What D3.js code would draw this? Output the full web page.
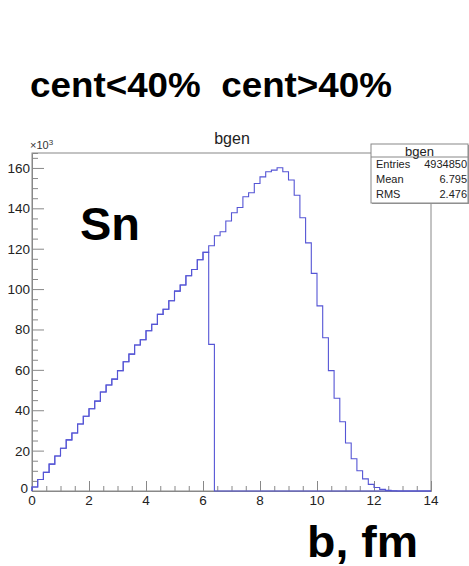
<!DOCTYPE html>
<html>
<head>
<meta charset="utf-8">
<script src="https://cdn.jsdelivr.net/npm/d3@7"></script>
<style>
  body { margin: 0; background: #fff; }
  svg { display: block; }
  text { font-family: "Liberation Sans", Arial, sans-serif; }
</style>
</head>
<body>
<script>
// bgen histogram, 70 bins of 0.2 fm between 0 and 14 (counts in units of 10^3)
var binLow = 0, binHigh = 14, binWidth = 0.2;

var allCounts = [
    2.0, 5.7, 9.2, 13.3, 17.3, 21.2, 25.3, 28.7, 33.2, 37.0,
    40.7, 44.5, 49.0, 52.5, 55.4, 59.6, 64.0, 67.8, 72.3, 74.9,
    79.4, 82.5, 87.5, 90.0, 94.2, 99.0, 102.0, 106.6, 109.7, 114.5,
    118.2, 121.5, 126.4, 128.4, 133.7, 137.8, 140.4, 145.7, 147.7, 152.3,
    155.6, 158.1, 158.9, 160.1, 158.1, 154.0, 146.5, 135.3, 122.9, 107.8,
    91.7, 75.9, 59.6, 45.9, 34.3, 23.8, 16.0, 10.0, 6.0, 3.3,
    1.7, 0.8, 0.3, 0.1, 0, 0, 0, 0, 0, 0
];

// central part (cent<40%): same bins up to b = 6.2, partial last bin, then empty
var centralCounts = [
    2.0, 5.7, 9.2, 13.3, 17.3, 21.2, 25.3, 28.7, 33.2, 37.0,
    40.7, 44.5, 49.0, 52.5, 55.4, 59.6, 64.0, 67.8, 72.3, 74.9,
    79.4, 82.5, 87.5, 90.0, 94.2, 99.0, 102.0, 106.6, 109.7, 114.5,
    118.2, 72.6, 0, 0, 0, 0, 0, 0, 0, 0,
    0, 0, 0, 0, 0, 0, 0, 0, 0, 0,
    0, 0, 0, 0, 0, 0, 0, 0, 0, 0,
    0, 0, 0, 0, 0, 0, 0, 0, 0, 0
];

var xTicks = [0, 2, 4, 6, 8, 10, 12, 14];
var yTicks = [0, 20, 40, 60, 80, 100, 120, 140, 160];

var statsRows = [["Entries", "4934850"], ["Mean", "6.795"], ["RMS", "2.476"]];

var width = 469, height = 566;
var frame = {left: 32, right: 431, top: 153, bottom: 491};
var yMax = 167.4;

var x = d3.scaleLinear().domain([binLow, binHigh]).range([frame.left, frame.right]);
var y = d3.scaleLinear().domain([0, yMax]).range([frame.bottom, frame.top]);

var svg = d3.select("body").append("svg")
    .attr("width", width)
    .attr("height", height);

// frame
svg.append("rect")
    .attr("x", frame.left)
    .attr("y", frame.top)
    .attr("width", frame.right - frame.left)
    .attr("height", frame.bottom - frame.top)
    .attr("fill", "none")
    .attr("stroke", "#888")
    .attr("stroke-width", 1);

// ROOT style ticks (inside the frame)
var xAxis = d3.axisBottom(x)
    .tickValues(d3.range(0, 14.01, 0.5))
    .tickSize(-5)
    .tickFormat("");
svg.append("g")
    .attr("transform", "translate(0," + frame.bottom + ")")
    .call(xAxis)
    .call(function(g) {
        g.select(".domain").attr("stroke", "#888");
        g.selectAll(".tick line").attr("stroke", "#888")
            .attr("y2", function(d) { return d % 2 === 0 ? -10 : -5; });
    });

var yAxis = d3.axisLeft(y)
    .tickValues(d3.range(0, 166, 5))
    .tickSize(-6)
    .tickFormat("");
svg.append("g")
    .attr("transform", "translate(" + frame.left + ",0)")
    .call(yAxis)
    .call(function(g) {
        g.select(".domain").attr("stroke", "#888");
        g.selectAll(".tick line").attr("stroke", "#888")
            .attr("x2", function(d) { return d % 20 === 0 ? 12 : 6; });
    });

// tick labels
svg.append("g").selectAll("text")
    .data(xTicks)
    .enter().append("text")
    .attr("x", function(d) { return x(d); })
    .attr("y", frame.bottom + 14)
    .attr("text-anchor", "middle")
    .attr("font-size", 13.5)
    .attr("fill", "#222")
    .text(function(d) { return d; });

svg.append("g").selectAll("text")
    .data(yTicks)
    .enter().append("text")
    .attr("x", function(d) { return d === 0 ? frame.left - 4 : frame.left - 2; })
    .attr("y", function(d) { return y(d) + (d === 0 ? 2 : 5); })
    .attr("text-anchor", "end")
    .attr("font-size", 13.5)
    .attr("fill", "#222")
    .text(function(d) { return d; });

var expo = svg.append("text")
    .attr("x", frame.left - 2)
    .attr("y", frame.top - 4)
    .attr("font-size", 11)
    .attr("fill", "#333");
expo.append("tspan").text("\u00d710");
expo.append("tspan").attr("dy", -4).attr("font-size", 8).text("3");

// histogram outlines
function stepPath(counts) {
    var pts = [[x(binLow), y(0)]];
    counts.forEach(function(v, i) {
        var lo = binLow + i * binWidth, hi = lo + binWidth;
        pts.push([x(lo), y(v)], [x(hi), y(v)]);
    });
    pts.push([x(binHigh), y(0)]);
    return d3.line()(pts);
}

svg.append("path")
    .attr("d", stepPath(allCounts))
    .attr("fill", "none")
    .attr("stroke", "#5555d5")
    .attr("stroke-width", 1.1);

svg.append("path")
    .attr("d", stepPath(centralCounts))
    .attr("fill", "none")
    .attr("stroke", "#5555d5")
    .attr("stroke-width", 1.1);

// histogram title
svg.append("text")
    .attr("x", 232)
    .attr("y", 144)
    .attr("text-anchor", "middle")
    .attr("font-size", 16)
    .attr("fill", "#222")
    .text("bgen");

// stats box
var box = {x: 371, y: 144, w: 97, h: 59};
svg.append("rect")
    .attr("x", box.x + 1).attr("y", box.y + 1)
    .attr("width", box.w).attr("height", box.h)
    .attr("fill", "#999");
svg.append("rect")
    .attr("x", box.x).attr("y", box.y)
    .attr("width", box.w).attr("height", box.h)
    .attr("fill", "#fff")
    .attr("stroke", "#888");
svg.append("line")
    .attr("x1", box.x).attr("x2", box.x + box.w)
    .attr("y1", box.y + 13).attr("y2", box.y + 13)
    .attr("stroke", "#888");
svg.append("text")
    .attr("x", box.x + box.w / 2)
    .attr("y", box.y + 11.5)
    .attr("text-anchor", "middle")
    .attr("font-size", 13)
    .attr("fill", "#222")
    .text("bgen");
statsRows.forEach(function(r, i) {
    var ty = box.y + 24 + i * 15;
    svg.append("text")
        .attr("x", box.x + 5).attr("y", ty)
        .attr("font-size", 11).attr("fill", "#222")
        .text(r[0]);
    svg.append("text")
        .attr("x", box.x + box.w - 1).attr("y", ty)
        .attr("text-anchor", "end")
        .attr("font-size", 11).attr("fill", "#222")
        .text(r[1]);
});

// slide annotations
svg.append("text")
    .attr("x", 30)
    .attr("y", 97)
    .attr("font-size", 35)
    .attr("font-weight", "bold")
    .attr("fill", "#000")
    .attr("textLength", 362)
    .attr("lengthAdjust", "spacingAndGlyphs")
    .attr("xml:space", "preserve")
    .style("white-space", "pre")
    .text("cent<40%  cent>40%");

svg.append("text")
    .attr("x", 80)
    .attr("y", 240)
    .attr("font-size", 47)
    .attr("font-weight", "bold")
    .attr("fill", "#000")
    .text("Sn");

svg.append("text")
    .attr("x", 307)
    .attr("y", 557)
    .attr("font-size", 45)
    .attr("font-weight", "bold")
    .attr("fill", "#000")
    .attr("textLength", 111)
    .attr("lengthAdjust", "spacingAndGlyphs")
    .text("b, fm");
</script>
</body>
</html>
